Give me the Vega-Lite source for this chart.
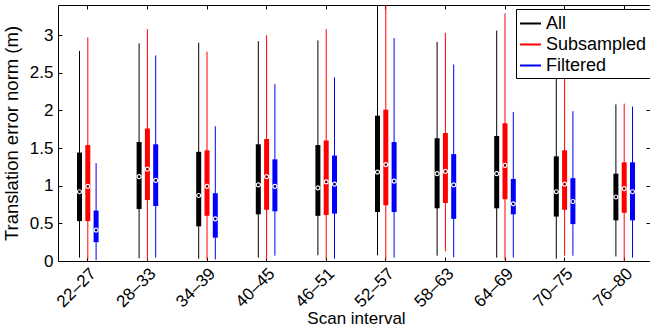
{
  "$schema": "https://vega.github.io/schema/vega-lite/v6.json",
  "width": 592,
  "height": 256,
  "autosize": {"type": "none"},
  "padding": {"left": 58, "top": 5, "right": 0, "bottom": 67},
  "config": {
    "view": {"stroke": null},
    "font": "Liberation Sans",
    "axis": {
      "domainColor": "black",
      "tickColor": "black",
      "labelColor": "black",
      "titleColor": "black",
      "grid": false,
      "labelFont": "Liberation Sans",
      "titleFont": "Liberation Sans",
      "titleFontWeight": "normal"
    }
  },
  "data": {
    "values": [
      {"interval": "22–27", "series": "All", "lo": 0.045, "q1": 0.53, "med": 0.92, "q3": 1.44, "hi": 2.79},
      {"interval": "22–27", "series": "Subsampled", "lo": 0.02, "q1": 0.53, "med": 0.99, "q3": 1.54, "hi": 2.97},
      {"interval": "22–27", "series": "Filtered", "lo": 0.01, "q1": 0.25, "med": 0.41, "q3": 0.67, "hi": 1.30},
      {"interval": "28–33", "series": "All", "lo": 0.036, "q1": 0.69, "med": 1.12, "q3": 1.58, "hi": 2.89},
      {"interval": "28–33", "series": "Subsampled", "lo": 0.01, "q1": 0.81, "med": 1.22, "q3": 1.76, "hi": 3.08},
      {"interval": "28–33", "series": "Filtered", "lo": 0.045, "q1": 0.73, "med": 1.07, "q3": 1.55, "hi": 2.73},
      {"interval": "34–39", "series": "All", "lo": 0.03, "q1": 0.46, "med": 0.87, "q3": 1.45, "hi": 2.90},
      {"interval": "34–39", "series": "Subsampled", "lo": 0.02, "q1": 0.60, "med": 0.99, "q3": 1.47, "hi": 2.78},
      {"interval": "34–39", "series": "Filtered", "lo": 0.02, "q1": 0.31, "med": 0.56, "q3": 0.90, "hi": 1.79},
      {"interval": "40–45", "series": "All", "lo": 0.045, "q1": 0.62, "med": 1.01, "q3": 1.55, "hi": 2.92},
      {"interval": "40–45", "series": "Subsampled", "lo": 0.02, "q1": 0.68, "med": 1.12, "q3": 1.62, "hi": 3.00},
      {"interval": "40–45", "series": "Filtered", "lo": 0.07, "q1": 0.66, "med": 0.99, "q3": 1.35, "hi": 2.35},
      {"interval": "46–51", "series": "All", "lo": 0.076, "q1": 0.60, "med": 0.97, "q3": 1.54, "hi": 2.93},
      {"interval": "46–51", "series": "Subsampled", "lo": 0.02, "q1": 0.61, "med": 1.05, "q3": 1.60, "hi": 3.08},
      {"interval": "46–51", "series": "Filtered", "lo": 0.03, "q1": 0.63, "med": 1.02, "q3": 1.40, "hi": 2.44},
      {"interval": "52–57", "series": "All", "lo": 0.076, "q1": 0.65, "med": 1.18, "q3": 1.93, "hi": 3.6},
      {"interval": "52–57", "series": "Subsampled", "lo": 0.02, "q1": 0.74, "med": 1.28, "q3": 2.01, "hi": 3.6},
      {"interval": "52–57", "series": "Filtered", "lo": 0.045, "q1": 0.65, "med": 1.06, "q3": 1.58, "hi": 2.96},
      {"interval": "58–63", "series": "All", "lo": 0.07, "q1": 0.70, "med": 1.16, "q3": 1.63, "hi": 2.91},
      {"interval": "58–63", "series": "Subsampled", "lo": 0.13, "q1": 0.77, "med": 1.19, "q3": 1.70, "hi": 3.03},
      {"interval": "58–63", "series": "Filtered", "lo": 0.05, "q1": 0.56, "med": 1.01, "q3": 1.42, "hi": 2.61},
      {"interval": "64–69", "series": "All", "lo": 0.045, "q1": 0.70, "med": 1.16, "q3": 1.66, "hi": 3.06},
      {"interval": "64–69", "series": "Subsampled", "lo": 0.01, "q1": 0.82, "med": 1.27, "q3": 1.83, "hi": 3.29},
      {"interval": "64–69", "series": "Filtered", "lo": 0.045, "q1": 0.62, "med": 0.76, "q3": 1.09, "hi": 1.98},
      {"interval": "70–75", "series": "All", "lo": 0.03, "q1": 0.59, "med": 0.92, "q3": 1.39, "hi": 2.9},
      {"interval": "70–75", "series": "Subsampled", "lo": 0.07, "q1": 0.68, "med": 1.02, "q3": 1.47, "hi": 3.0},
      {"interval": "70–75", "series": "Filtered", "lo": 0.07, "q1": 0.49, "med": 0.79, "q3": 1.10, "hi": 1.99},
      {"interval": "76–80", "series": "All", "lo": 0.06, "q1": 0.54, "med": 0.85, "q3": 1.16, "hi": 2.08},
      {"interval": "76–80", "series": "Subsampled", "lo": 0.0, "q1": 0.64, "med": 0.96, "q3": 1.31, "hi": 2.09},
      {"interval": "76–80", "series": "Filtered", "lo": 0.045, "q1": 0.54, "med": 0.92, "q3": 1.31, "hi": 2.05}
    ]
  },
  "layer": [
    {
      "mark": {"type": "rule", "strokeWidth": 1, "clip": true},
      "encoding": {
        "x": {"field": "interval", "type": "nominal", "sort": null,
              "scale": {"range": [0, 596], "padding": 0},
              "axis": {"orient": "bottom", "title": "Scan interval", "titleFontSize": 17, "titlePadding": 1,
                       "labelAngle": -45, "labelFontSize": 17, "tickSize": -4, "labelPadding": 8, "domainWidth": 1}},
        "xOffset": {"field": "series", "type": "nominal", "sort": ["All", "Subsampled", "Filtered"],
                    "scale": {"range": [17.35, 42.25], "padding": 0}},
        "y": {"field": "lo", "type": "quantitative",
              "scale": {"domain": [0, 3.4], "nice": false, "zero": false},
              "axis": {"orient": "left", "title": "Translation error norm (m)", "titleFontSize": 18.5,
                       "values": [0, 0.5, 1, 1.5, 2, 2.5, 3], "format": "~g", "labelFontSize": 17,
                       "tickSize": -4, "labelPadding": 9, "titlePadding": 8}},
        "y2": {"field": "hi"},
        "color": {"field": "series", "type": "nominal",
                  "scale": {"domain": ["All", "Subsampled", "Filtered"], "range": ["#000000", "#ff0000", "#0000ff"]},
                  "legend": {"orient": "none", "legendX": 458, "legendY": 4, "title": null,
                             "symbolType": "stroke", "symbolSize": 441, "symbolStrokeWidth": 2,
                             "labelFontSize": 18, "labelColor": "black", "strokeColor": "black", "fillColor": "white",
                             "padding": 3, "rowPadding": 0, "labelOffset": 4}}
      }
    },
    {
      "mark": {"type": "bar", "width": 5, "clip": true},
      "encoding": {
        "x": {"field": "interval", "type": "nominal", "sort": null,
              "axis": {"orient": "top", "labels": false, "title": null, "tickSize": -4, "domainWidth": 1}},
        "xOffset": {"field": "series", "type": "nominal", "sort": ["All", "Subsampled", "Filtered"]},
        "y": {"field": "q1", "type": "quantitative",
              "axis": {"orient": "right", "labels": false, "title": null,
                       "values": [0, 0.5, 1, 1.5, 2, 2.5, 3], "tickSize": -4}},
        "y2": {"field": "q3"},
        "color": {"field": "series", "type": "nominal", "legend": null}
      }
    },
    {
      "mark": {"type": "point", "shape": "circle", "filled": false, "color": "white", "size": 16, "strokeWidth": 1.2, "opacity": 1},
      "encoding": {
        "x": {"field": "interval", "type": "nominal", "sort": null, "axis": null},
        "xOffset": {"field": "series", "type": "nominal", "sort": ["All", "Subsampled", "Filtered"]},
        "y": {"field": "med", "type": "quantitative", "axis": null}
      }
    },
    {
      "mark": {"type": "point", "shape": "circle", "filled": true, "color": "black", "size": 3, "opacity": 1},
      "encoding": {
        "x": {"field": "interval", "type": "nominal", "sort": null, "axis": null},
        "xOffset": {"field": "series", "type": "nominal", "sort": ["All", "Subsampled", "Filtered"]},
        "y": {"field": "med", "type": "quantitative", "axis": null}
      }
    }
  ],
  "resolve": {"axis": {"x": "independent", "y": "independent"}}
}
